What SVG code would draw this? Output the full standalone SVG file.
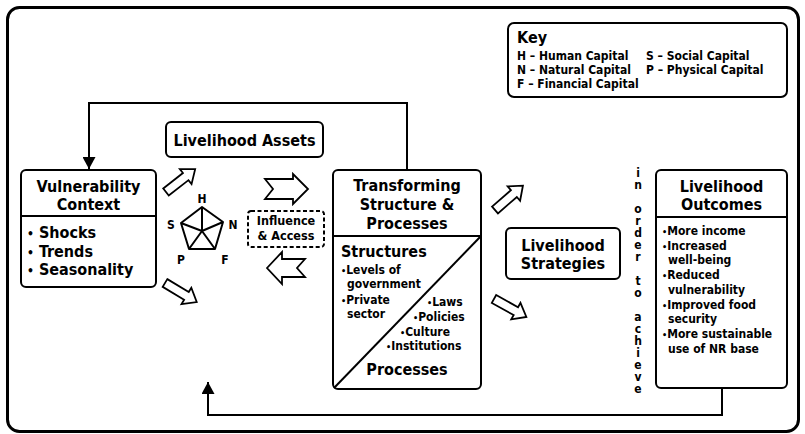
<svg xmlns="http://www.w3.org/2000/svg" width="805" height="434" viewBox="0 0 805 434">
<defs>
<style>
.box{fill:#fff;stroke:#000;stroke-width:2}
.ln{fill:none;stroke:#000;stroke-width:2}
.arr{fill:#fff;stroke:#000;stroke-width:1.8;stroke-linejoin:miter}
.t{font-family:"DejaVu Sans Condensed","DejaVu Sans",sans-serif;font-weight:bold;fill:#000}
.h{font-size:16px}
.s{font-size:12px}
.c{text-anchor:middle}
.b{font-size:9px}
.bb{font-size:12px}
.vt{font-size:12px;writing-mode:vertical-rl;text-orientation:upright;letter-spacing:-2px}
</style>
<marker id="ah" viewBox="0 0 12 13" refX="12" refY="6.5" markerWidth="12" markerHeight="13" markerUnits="userSpaceOnUse" orient="auto">
<path d="M0,0 L12,6.5 L0,13 Z" fill="#000"/>
</marker>
<path id="blk" d="M0,-4.5 H25 V-9.5 L37,0 L25,9.5 V4.5 H0 Z"/>
</defs>
<rect x="0" y="0" width="805" height="434" fill="#fff"/>
<rect x="7.5" y="7.5" width="791" height="424" rx="12" fill="#fff" stroke="#000" stroke-width="3"/>

<g id="connectors">
<polyline class="ln" points="407,170 407,103 89,103 89,169" marker-end="url(#ah)"/>
<polyline class="ln" points="722,388 722,415 208,415 208,382" marker-end="url(#ah)"/>
<use href="#blk" class="arr" transform="translate(166,192) rotate(-38)"/>
<use href="#blk" class="arr" transform="translate(165,283) rotate(31)"/>
<use href="#blk" class="arr" transform="translate(495,210) rotate(-41)"/>
<use href="#blk" class="arr" transform="translate(494,299) rotate(29)"/>
<path class="arr" d="M265,179 H293 V174 L308,189 L293,204 V199 H265 L273,189 Z"/>
<path class="arr" d="M267,268 L282,252 V259 H305 L297,268 L305,277 H282 V284 Z"/>
</g>

<g id="key">
<rect class="box" x="508" y="23" width="279" height="74" rx="6"/>
<text class="t h" x="517" y="43">Key</text>
<text class="t s" x="517" y="60">H – Human Capital</text>
<text class="t s" x="646" y="60">S – Social Capital</text>
<text class="t s" x="517" y="74">N – Natural Capital</text>
<text class="t s" x="646" y="74">P – Physical Capital</text>
<text class="t s" x="517" y="88">F – Financial Capital</text>
</g>

<g id="livelihood-assets">
<rect class="box" x="166" y="122" width="157" height="35" rx="5"/>
<text class="t h c" x="244.5" y="146">Livelihood Assets</text>
</g>

<g id="vulnerability-context">
<rect class="box" x="21" y="170" width="135" height="117" rx="5"/>
<line class="ln" x1="21" y1="216" x2="156" y2="216"/>
<text class="t h c" x="88.5" y="192">Vulnerability</text>
<text class="t h c" x="88.5" y="210">Context</text>
<text class="t h" x="27" y="238"><tspan class="bb">•</tspan> Shocks</text>
<text class="t h" x="27" y="257"><tspan class="bb">•</tspan> Trends</text>
<text class="t h" x="27" y="275"><tspan class="bb">•</tspan> Seasonality</text>
</g>

<g id="asset-pentagon">
<path class="ln" d="M202,207 L223,222 L215,249 L189,249 L181,223 Z M202,231 L202,207 M202,231 L223,222 M202,231 L215,249 M202,231 L189,249 M202,231 L181,223" stroke-linejoin="round"/>
<text class="t s c" x="202" y="203">H</text>
<text class="t s c" x="171" y="229">S</text>
<text class="t s c" x="233" y="229">N</text>
<text class="t s c" x="181" y="264">P</text>
<text class="t s c" x="225" y="264">F</text>
</g>

<g id="influence-access">
<rect x="248" y="211" width="76" height="36" rx="3" fill="#fff" stroke="#000" stroke-width="2" stroke-dasharray="4,2.5"/>
<text class="t c" x="286" y="225" font-size="12.5">Influence</text>
<text class="t c" x="286" y="240" font-size="12.5">&amp; Access</text>
</g>

<g id="transforming">
<rect class="box" x="333" y="170" width="148" height="219" rx="5"/>
<line class="ln" x1="333" y1="236" x2="481" y2="236"/>
<line class="ln" x1="334" y1="388" x2="481" y2="236"/>
<text class="t h c" x="407" y="191">Transforming</text>
<text class="t h c" x="407" y="210">Structure &amp;</text>
<text class="t h c" x="407" y="229">Processes</text>
<text class="t h" x="341" y="257">Structures</text>
<text class="t s" x="341" y="274"><tspan class="b">•</tspan>Levels of</text>
<text class="t s" x="347" y="288">government</text>
<text class="t s" x="341" y="304"><tspan class="b">•</tspan>Private</text>
<text class="t s" x="347" y="318">sector</text>
<text class="t s" x="427" y="306"><tspan class="b">•</tspan>Laws</text>
<text class="t s" x="413" y="321"><tspan class="b">•</tspan>Policies</text>
<text class="t s" x="400" y="336"><tspan class="b">•</tspan>Culture</text>
<text class="t s" x="386" y="350"><tspan class="b">•</tspan>Institutions</text>
<text class="t h c" x="407" y="375">Processes</text>
</g>

<g id="livelihood-strategies">
<rect class="box" x="506" y="228" width="114" height="51" rx="5"/>
<text class="t h c" x="563" y="251">Livelihood</text>
<text class="t h c" x="563" y="269">Strategies</text>
</g>

<g id="in-order-to-achieve">
<text class="t vt" x="638" y="166">in order to achieve</text>
</g>

<g id="livelihood-outcomes">
<rect class="box" x="656" y="170" width="131" height="218" rx="5"/>
<line class="ln" x1="656" y1="217" x2="787" y2="217"/>
<text class="t h c" x="721.5" y="192">Livelihood</text>
<text class="t h c" x="721.5" y="210">Outcomes</text>
<text class="t s" x="662" y="235"><tspan class="b">•</tspan>More income</text>
<text class="t s" x="662" y="249.7"><tspan class="b">•</tspan>Increased</text>
<text class="t s" x="668" y="264.4">well-being</text>
<text class="t s" x="662" y="279"><tspan class="b">•</tspan>Reduced</text>
<text class="t s" x="668" y="293.8">vulnerability</text>
<text class="t s" x="662" y="308.5"><tspan class="b">•</tspan>Improved food</text>
<text class="t s" x="668" y="323">security</text>
<text class="t s" x="662" y="338"><tspan class="b">•</tspan>More sustainable</text>
<text class="t s" x="668" y="352.6">use of NR base</text>
</g>
</svg>
